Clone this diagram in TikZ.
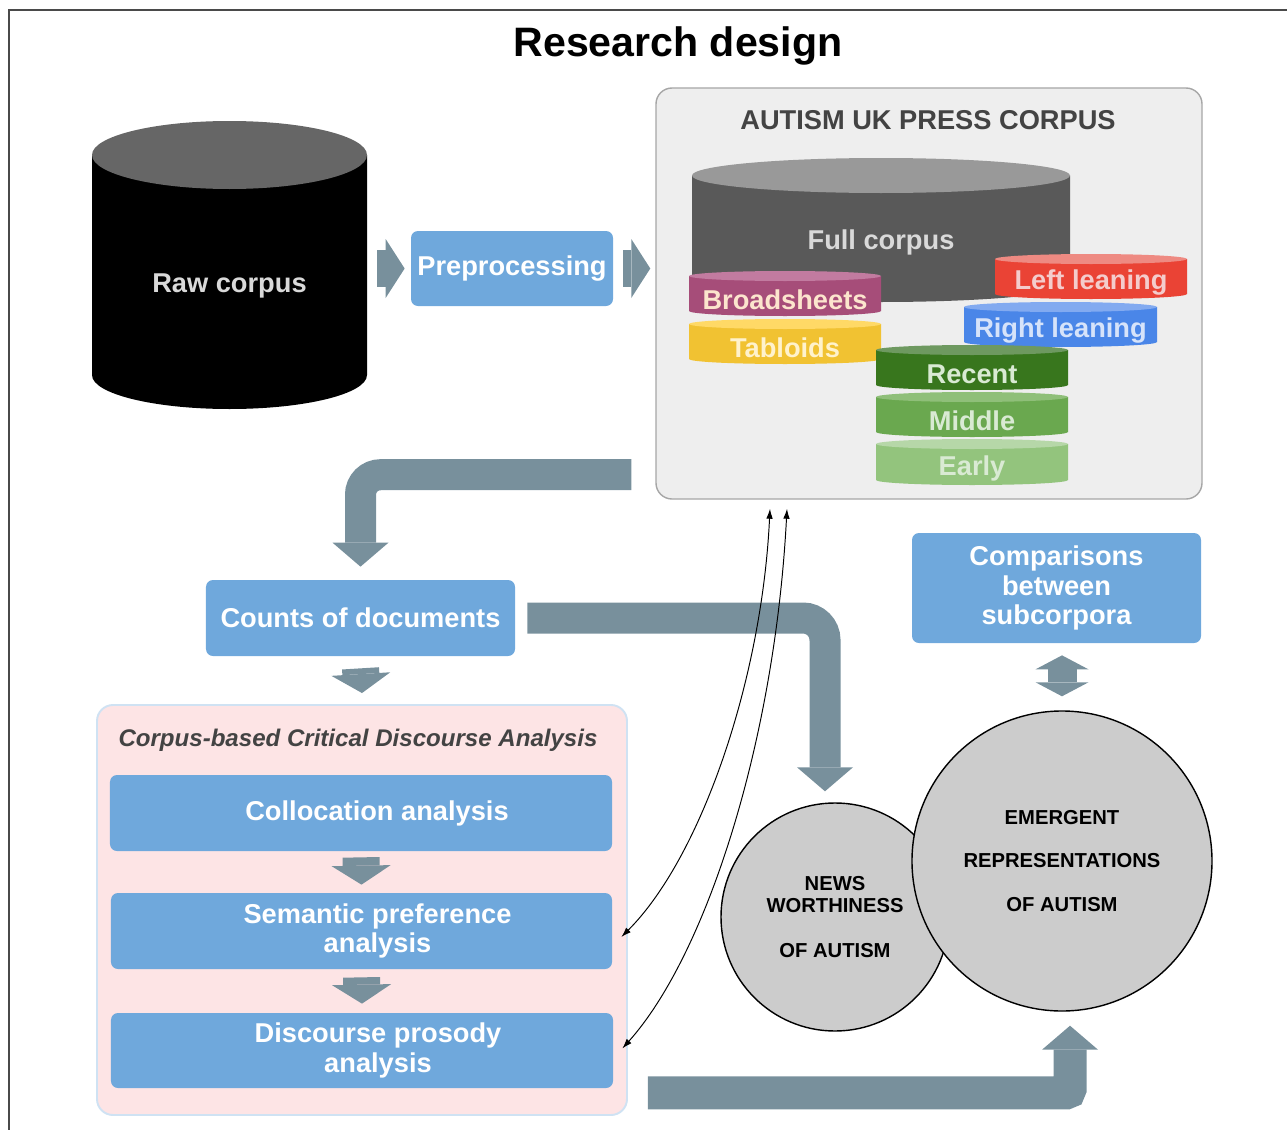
\documentclass[tikz,border=0pt]{standalone}
\usepackage{fontspec}
\setmainfont{Liberation Sans}
\usetikzlibrary{arrows.meta}

\definecolor{boxblue}{HTML}{6FA8DC}
\definecolor{flowgray}{HTML}{78909C}
\definecolor{panelgray}{HTML}{EEEEEE}
\definecolor{panelline}{HTML}{A6A6A6}
\definecolor{cdapink}{HTML}{FDE4E5}
\definecolor{cdaline}{HTML}{CFE2F3}
\definecolor{bubblegray}{HTML}{CCCCCC}
\definecolor{framegray}{HTML}{4A4A4A}
\definecolor{headgray}{HTML}{434343}
% cylinder colours: body, top, text
\definecolor{rawBody}{HTML}{000000}\definecolor{rawTop}{HTML}{666666}\definecolor{rawText}{HTML}{D9D9D9}
\definecolor{fullBody}{HTML}{595959}\definecolor{fullTop}{HTML}{999999}\definecolor{fullText}{HTML}{D9D9D9}
\definecolor{broadBody}{HTML}{A64D79}\definecolor{broadTop}{HTML}{C27BA0}\definecolor{broadText}{HTML}{FCE5CD}
\definecolor{tabBody}{HTML}{F1C232}\definecolor{tabTop}{HTML}{FFD966}\definecolor{tabText}{HTML}{FFF2CC}
\definecolor{leftBody}{HTML}{EA4335}\definecolor{leftTop}{HTML}{EE8A82}\definecolor{leftText}{HTML}{F4CCCC}
\definecolor{rightBody}{HTML}{4A86E8}\definecolor{rightTop}{HTML}{82AAF0}\definecolor{rightText}{HTML}{D6E3FA}
\definecolor{recentBody}{HTML}{38761D}\definecolor{recentTop}{HTML}{6E9960}\definecolor{recentText}{HTML}{D9EAD3}
\definecolor{middleBody}{HTML}{6AA84F}\definecolor{middleTop}{HTML}{8FBF79}\definecolor{middleText}{HTML}{D9EAD3}
\definecolor{earlyBody}{HTML}{93C47D}\definecolor{earlyTop}{HTML}{B6D7A8}\definecolor{earlyText}{HTML}{D9EAD3}

% #1 name, #2 x, #3 top y, #4 bottom y, #5 x radius, #6 y radius, #7 colour prefix, #8 label
\newcommand{\corpuscyl}[8]{%
  \fill[#7Body] ({#2-#5},#3) -- ({#2-#5},#4) arc[start angle=180, end angle=0, x radius=#5, y radius=#6] -- ({#2+#5},#3) -- cycle;
  \fill[#7Top] (#2,#3) ellipse[x radius=#5, y radius=#6];
  \node[cyllabel, text=#7Text, minimum width={2*#5*0.2mm}, minimum height={(#4+#6-#3)*0.2mm}] (#1) at (#2,{(#3+#4+#6)/2+4}) {#8};%
}
% text in the analysis boxes sits a bit right of centre
\newcommand{\nudge}{\hspace*{6.4mm}}

\begin{document}
\begin{tikzpicture}[x=0.2mm, y=-0.2mm,
    bluebox/.style={fill=boxblue, rounded corners=1.4mm, text=white, align=center, inner sep=0pt,
      font=\bfseries\fontsize{15.5}{17}\selectfont},
    cyllabel/.style={inner sep=0pt, font=\bfseries\fontsize{15.5}{17}\selectfont},
    panel/.style={fill=panelgray, draw=panelline, line width=0.8pt, rounded corners=3.2mm, inner sep=0pt},
    cdapanel/.style={fill=cdapink, draw=cdaline, line width=1.1pt, rounded corners=3.2mm, inner sep=0pt},
    bubble/.style={circle, draw=black, line width=0.8pt, fill=bubblegray, align=center, inner sep=0pt,
      font=\bfseries\fontsize{11.5}{12.5}\selectfont},
    stepflow/.style={draw=flowgray, line width=7.4mm, -{Triangle[length=3.8mm, width=11.8mm, line width=0pt]}},
    bigflow/.style={draw=flowgray, line width=6.2mm, -{Triangle[length=4.8mm, width=11.2mm, line width=0pt]}},
    twoway/.style={draw=flowgray, line width=5.8mm, {Triangle[length=2.8mm, width=10.6mm, line width=0pt]}-{Triangle[length=2.8mm, width=10.6mm, line width=0pt]}},
    thinlink/.style={draw=black, line width=0.55pt, {Latex[length=2mm, width=1.3mm]}-{Latex[length=2mm, width=1.3mm]}}]

\useasboundingbox (0,0) rectangle (1287,1130);
\draw[framegray, line width=0.9pt] (1287,10) -- (9,10) -- (9,1130);

\node[font=\bfseries\fontsize{23.4}{28}\selectfont] (title) at (678,46) {Research design};

% raw data
\corpuscyl{raw}{229.5}{155}{375}{137.5}{34}{raw}{Raw corpus}
\node[bluebox, minimum width=40.4mm, minimum height=15mm] (prep) at (512,268.5) {Preprocessing};

% the press corpus and its parts
\node[panel, minimum width=109.2mm, minimum height=82.2mm] (corpus) at (929,293.5) {};
\node[font=\bfseries\fontsize{15.5}{17}\selectfont, text=headgray] (corpustitle) at (928,120) {AUTISM UK PRESS CORPUS};
\corpuscyl{full}{881}{175.5}{284.5}{189}{17.5}{full}{Full corpus}
\corpuscyl{broad}{785}{276}{311}{96}{5}{broad}{Broadsheets}
\corpuscyl{tab}{785}{324}{359}{96}{5}{tab}{Tabloids}
\corpuscyl{left}{1091}{259}{294}{96}{5}{left}{Left leaning}
\corpuscyl{right}{1060.5}{307}{342}{96.5}{5}{right}{Right leaning}
\corpuscyl{recent}{972}{350}{385}{96}{5}{recent}{Recent}
\corpuscyl{middle}{972}{397}{432}{96}{5}{middle}{Middle}
\corpuscyl{early}{972}{444}{480}{96}{5}{early}{Early}

\draw[stepflow, shorten <=2mm, shorten >=1.2mm] (raw.east |- prep.west) -- (prep.west);
\draw[stepflow, shorten <=2mm, shorten >=1mm] (prep.east) -- (corpus.west |- prep.east);

% counts and analysis
\node[bluebox, minimum width=61.8mm, minimum height=15.2mm] (counts) at (360.5,618) {Counts of documents};
\node[cdapanel, minimum width=106mm, minimum height=82mm] (cda) at (362,910) {};
\node[font=\bfseries\itshape\fontsize{13.7}{16}\selectfont, text=headgray] (cdatitle) at (358,740) {Corpus-based Critical Discourse Analysis};
\node[bluebox, minimum width=100.4mm, minimum height=15.2mm] (col) at (361,813) {\nudge Collocation analysis};
\node[bluebox, minimum width=100.2mm, minimum height=15.2mm] (sem) at (361.5,931) {\nudge Semantic preference\\\nudge analysis};
\node[bluebox, minimum width=100.4mm, minimum height=15mm] (dis) at (362,1050.5) {\nudge Discourse prosody\\\nudge analysis};

\draw[bigflow, rounded corners=4mm] ([xshift=-4.8mm, yshift=5mm]corpus.south west) -| ([yshift=2.6mm]counts.north);
\draw[stepflow] ([yshift=-2.4mm]counts.south) -- ([yshift=2.2mm]cda.north);
\draw[stepflow] ([yshift=-1.2mm]col.south) -- ([yshift=1.6mm]sem.north);
\draw[stepflow] ([yshift=-1.6mm]sem.south) -- ([yshift=1.8mm]dis.north);

% outcomes
\node[bluebox, minimum width=57.8mm, minimum height=22mm] (compare) at (1056.5,588) {Comparisons\\between\\subcorpora};
\node[bubble, minimum size=45.6mm] (news) at (835,917) {NEWS\\WORTHINESS\\[13pt]OF AUTISM};
\node[bubble, minimum size=60mm] (emergent) at (1062,861) {EMERGENT\\[12.5pt]REPRESENTATIONS\\[12.5pt]OF AUTISM};

\draw[bigflow, rounded corners=4.4mm] ([xshift=2.4mm]counts.east) -| ([xshift=-2mm, yshift=2.2mm]news.north);
\draw[bigflow, line width=6.6mm, rounded corners=0.8mm] ([xshift=4mm, yshift=4.6mm]cda.south east) -| ([xshift=1.6mm, yshift=-2.8mm]emergent.south);
\draw[twoway, shorten <=2.4mm, shorten >=2.8mm] (compare.south -| emergent.north) -- (emergent.north);

% links back to the corpus
\coordinate (back1) at ([xshift=-31.8mm, yshift=-1.8mm]corpus.south);
\coordinate (back2) at ([xshift=-28.4mm, yshift=-1.8mm]corpus.south);
\draw[thinlink] ([xshift=1.8mm, yshift=-1.2mm]sem.east) .. controls +(80,-80) and +(-8,170) .. (back1);
\draw[thinlink] ([xshift=1.8mm, yshift=0.4mm]dis.east) .. controls +(85,-95) and +(-12,230) .. (back2);

\end{tikzpicture}
\end{document}
